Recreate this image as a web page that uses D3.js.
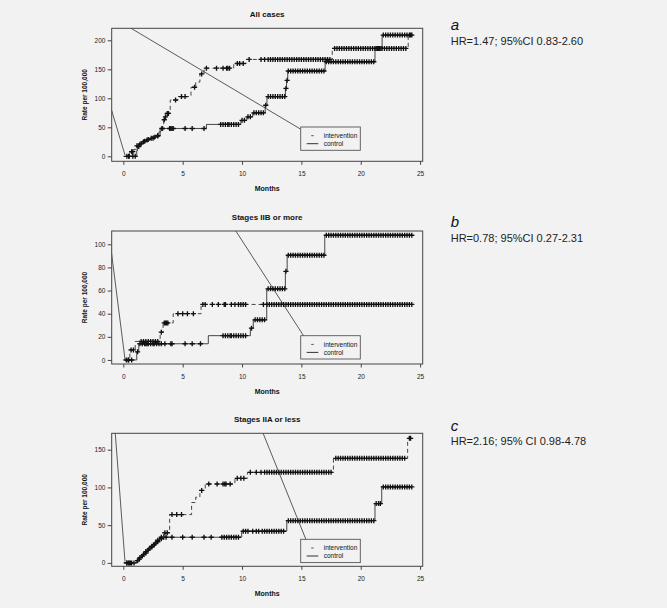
<!DOCTYPE html>
<html>
<head>
<meta charset="utf-8">
<script src="https://cdnjs.cloudflare.com/ajax/libs/d3/7.8.5/d3.min.js"></script>
<style>
  body { margin: 0; background: #f2f2f2; }
  svg { display: block; font-family: "Liberation Sans", Arial, sans-serif; }
</style>
</head>
<body>
<div class="canvas"></div>
<script>
// ---- data ----
var titles = ["All cases", "Stages IIB or more", "Stages IIA or less"];
var letters = ["a", "b", "c"];
var hrLabels = ["HR=1.47; 95%CI 0.83-2.60", "HR=0.78; 95%CI 0.27-2.31", "HR=2.16; 95% CI 0.98-4.78"];
var xTicks = [0, 5, 10, 15, 20, 25];
var aYTicks = [0, 50, 100, 150, 200];
var bYTicks = [0, 20, 40, 60, 80, 100];
var cYTicks = [0, 50, 100, 150];

// all cases
var aIntTimes = [0.2, 0.55, 0.9, 1.1, 1.3, 1.6, 1.9, 2.2, 2.5, 2.8, 3.0, 3.15, 3.3, 3.4, 3.5, 3.6, 3.95, 4.6, 5.7, 6.1, 6.45, 6.8, 9.3, 10.35, 17.6, 24.0];
var aIntRates = [0, 8, 12, 18, 21, 25, 28, 31, 33, 36, 42, 48, 56, 63, 68, 74, 97, 103, 119, 128, 142, 152, 160, 167, 186, 209];
var aIntCens = [0.3, 0.45, 0.7, 0.8, 1.15, 1.4, 1.7, 2.0, 2.35, 2.6, 2.9, 3.25, 3.45, 3.55, 3.7, 3.8, 4.4, 4.9, 5.2, 6.0, 6.6, 7.0, 7.85, 8.4, 8.7, 8.8, 8.95, 9.6, 9.8, 10.1, 10.6, 11.6, 11.9, 12.2,
  12.4, 12.6, 12.8, 13.0, 13.2, 13.4, 13.6, 13.8, 14.0, 14.2, 14.4, 14.6, 14.8, 15.0, 15.2, 15.4, 15.6, 15.8, 16.0, 16.2, 16.4, 16.6, 16.8, 17.0, 17.2, 17.4,
  17.8, 18.0, 18.2, 18.4, 18.6, 18.8, 19.0, 19.2, 19.4, 19.6, 19.8, 20.0, 20.2, 20.4, 20.6, 20.8, 21.0, 21.2, 21.4, 21.6, 21.8, 22.0, 22.2, 22.4, 22.6, 22.8, 23.0, 23.2, 23.4, 23.6, 23.8, 24.2];
var aCtlTimes = [0, 1.13, 1.2, 1.4, 1.7, 2.0, 2.3, 2.7, 3.1, 7.0, 9.9, 10.4, 10.9, 11.95, 12.1, 13.65, 13.75, 13.85, 17.0, 21.2, 21.8];
var aCtlRates = [0, 10, 17, 22, 26, 29, 31, 35, 48, 55, 62, 68, 75, 88, 103, 117, 131, 147, 163, 186, 209];
var aCtlCens = [0.5, 0.8, 1.0, 1.3, 1.5, 1.8, 2.1, 2.5, 2.9, 3.3, 3.9, 4.0, 4.1, 4.2, 5.2, 5.8, 6.8, 8.2, 8.4, 8.6, 8.8, 8.9, 9.1, 9.3, 9.5, 9.7, 10.0, 10.2, 10.5, 10.7, 11.0, 11.2, 11.4, 11.6, 11.8, 12.0,
  12.2, 12.4, 12.6, 12.8, 13.0, 13.2, 13.4, 13.6, 13.7, 13.8, 13.9, 14.1, 14.3, 14.5, 14.7, 14.9, 15.1, 15.3, 15.5, 15.7, 15.9, 16.1, 16.3, 16.5, 16.7, 16.9,
  17.1, 17.3, 17.5, 17.7, 17.9, 18.1, 18.3, 18.5, 18.7, 18.9, 19.1, 19.3, 19.5, 19.7, 19.9, 20.1, 20.3, 20.5, 20.7, 20.9, 21.1, 21.3, 21.5, 21.7,
  21.9, 22.1, 22.3, 22.5, 22.7, 22.9, 23.1, 23.3, 23.5, 23.7, 23.9, 24.1, 24.3];
var aRefLines = [[0.65, 220.7, 15.67, 37.9], [-1.12, 88.4, 0.14, 2.2]];

// stages IIB or more
var bIntTimes = [0.15, 0.55, 1.0, 3.1, 3.35, 4.2, 6.55];
var bIntRates = [0, 8.7, 16, 24, 32, 40, 48];
var bIntCens = [0.25, 0.45, 0.65, 0.85, 1.5, 1.7, 1.9, 2.1, 2.3, 2.5, 2.7, 2.9, 3.2, 3.45, 3.55, 3.65, 3.75, 4.6, 5.0, 5.4, 5.9, 6.7, 6.9, 7.5, 8.0, 8.5, 8.6, 9.1, 9.4, 9.7, 9.9, 10.1, 10.3, 11.8, 12.1,
  12.3, 12.5, 12.7, 12.9, 13.1, 13.3, 13.5, 13.7, 13.9, 14.1, 14.3, 14.5, 14.7, 14.9, 15.1, 15.3, 15.5, 15.7, 15.9, 16.1, 16.3, 16.5, 16.7, 16.9,
  17.1, 17.3, 17.5, 17.7, 17.9, 18.1, 18.3, 18.5, 18.7, 18.9, 19.1, 19.3, 19.5, 19.7, 19.9, 20.1, 20.3, 20.5, 20.7, 20.9,
  21.1, 21.3, 21.5, 21.7, 21.9, 22.1, 22.3, 22.5, 22.7, 22.9, 23.1, 23.3, 23.5, 23.7, 23.9, 24.1, 24.3];
var bCtlTimes = [0, 1.13, 1.3, 7.16, 10.7, 10.95, 12.08, 13.65, 13.8, 16.97];
var bCtlRates = [0, 7, 14, 21, 27.5, 34.7, 61.5, 76.6, 90.5, 107.8];
var bCtlCens = [0.4, 0.7, 1.2, 1.4, 1.6, 1.8, 1.9, 2.0, 2.1, 2.3, 2.5, 2.6, 2.8, 3.0, 3.2, 3.5, 4.0, 4.1, 5.2, 5.8, 6.5, 8.4, 8.6, 8.8, 9.0, 9.1, 9.3, 9.5, 9.7, 9.9, 10.1, 10.3, 10.8, 11.1, 11.3, 11.5, 11.7, 11.9,
  12.2, 12.4, 12.6, 12.8, 13.0, 13.2, 13.4, 13.6, 13.7, 13.9, 14.1, 14.3, 14.5, 14.7, 14.9, 15.1, 15.3, 15.5, 15.7, 15.9, 16.1, 16.3, 16.5, 16.7, 16.9,
  17.1, 17.3, 17.5, 17.7, 17.9, 18.1, 18.3, 18.5, 18.7, 18.9, 19.1, 19.3, 19.5, 19.7, 19.9, 20.1, 20.3, 20.5, 20.7, 20.9,
  21.1, 21.3, 21.5, 21.7, 21.9, 22.1, 22.3, 22.5, 22.7, 22.9, 23.1, 23.3, 23.5, 23.7, 23.9, 24.1, 24.3];
var bRefLines = [[9.41, 112.6, 15.59, 14.5], [-1.1, 101, 0.14, 0.6]];

// stages IIA or less
var cIntTimes = [0.2, 1.25, 1.5, 1.75, 2.0, 2.25, 2.5, 2.75, 3.0, 3.4, 3.9, 5.75, 6.1, 6.45, 6.9, 9.4, 10.45, 17.7, 23.95];
var cIntRates = [0, 5, 9, 13, 17, 21, 24, 28, 32, 40, 64, 80, 87, 96, 104.5, 112, 120, 138.5, 165];
var cIntCens = [0.3, 0.45, 0.6, 1.35, 1.6, 1.9, 2.1, 2.4, 2.6, 2.9, 3.2, 3.5, 3.7, 4.1, 4.5, 4.9, 6.6, 7.2, 7.9, 8.4, 8.55, 8.65, 9.0, 9.6, 9.9, 10.15, 10.7, 11.2, 11.6, 11.9,
  12.1, 12.3, 12.5, 12.7, 12.9, 13.1, 13.3, 13.5, 13.7, 13.9, 14.1, 14.3, 14.5, 14.7, 14.9, 15.1, 15.3, 15.5, 15.7, 15.9, 16.1, 16.3, 16.5, 16.7, 16.9, 17.1, 17.3, 17.5,
  17.9, 18.1, 18.3, 18.5, 18.7, 18.9, 19.1, 19.3, 19.5, 19.7, 19.9, 20.1, 20.3, 20.5, 20.7, 20.9, 21.1, 21.3, 21.5, 21.7, 21.9, 22.1, 22.3, 22.5, 22.7, 22.9, 23.1, 23.3, 23.5, 23.7,
  24.1, 24.2];
var cCtlTimes = [0, 1.1, 1.3, 1.55, 1.8, 2.05, 2.3, 2.55, 2.8, 3.05, 9.97, 13.77, 21.2, 21.77];
var cCtlRates = [0, 3, 7, 11, 15, 19, 22, 26, 30, 34, 42, 56, 78.6, 100.7];
var cCtlCens = [0.3, 0.5, 0.7, 0.9, 1.2, 1.4, 1.7, 1.9, 2.2, 2.4, 2.7, 2.9, 3.2, 3.4, 3.6, 4.1, 5.0, 5.8, 6.8, 7.4, 8.3, 8.5, 8.7, 8.9, 9.1, 9.3, 9.5, 9.7,
  10.1, 10.3, 10.5, 10.9, 11.2, 11.4, 11.7, 11.9, 12.1, 12.3, 12.5, 12.7, 12.9, 13.1, 13.3, 13.5,
  13.9, 14.1, 14.3, 14.5, 14.7, 14.9, 15.1, 15.3, 15.5, 15.7, 15.9, 16.1, 16.3, 16.5, 16.7, 16.9, 17.1, 17.3, 17.5, 17.7, 17.9,
  18.1, 18.3, 18.5, 18.7, 18.9, 19.1, 19.3, 19.5, 19.7, 19.9, 20.1, 20.3, 20.5, 20.7, 20.9, 21.1,
  21.3, 21.5, 21.65, 21.9, 22.1, 22.3, 22.5, 22.7, 22.9, 23.1, 23.3, 23.5, 23.7, 23.9, 24.1, 24.3];
var cRefLines = [[11.66, 176.2, 15.59, 23], [-0.7, 176, 0.14, 1.7]];

// ---- layout ----
var W = 667, H = 608;
var left = 111.7, right = 422.7, plotH = 133;

var panels = [
  { top: 28.3, yDomain: [-8.6, 220.7], yTicks: aYTicks, legendTop: 127,
    int: [aIntTimes, aIntRates, aIntCens], ctl: [aCtlTimes, aCtlRates, aCtlCens], ref: aRefLines,
    letterY: 30, hrY: 45 },
  { top: 231, yDomain: [-3.5, 111.5], yTicks: bYTicks, legendTop: 335.7,
    int: [bIntTimes, bIntRates, bIntCens], ctl: [bCtlTimes, bCtlRates, bCtlCens], ref: bRefLines,
    letterY: 227, hrY: 242 },
  { top: 433.3, yDomain: [-4.5, 171.7], yTicks: cYTicks, legendTop: 539.3,
    int: [cIntTimes, cIntRates, cIntCens], ctl: [cCtlTimes, cCtlRates, cCtlCens], ref: cRefLines,
    letterY: 431, hrY: 445 }
];

var svg = d3.select(".canvas").append("svg").attr("width", W).attr("height", H);
svg.append("rect").attr("width", W).attr("height", H).attr("fill", "#f2f2f2");

var x = d3.scaleLinear().domain([-0.98, 25.22]).range([left, right]);

// value of a step function at time t
function stepAt(times, rates, t) {
  var v = rates[0];
  for (var i = 0; i < times.length; i++) { if (times[i] <= t) v = rates[i]; }
  return v;
}

panels.forEach(function(p, i) {
  var bottom = p.top + plotH;
  var y = d3.scaleLinear().domain(p.yDomain).range([bottom, p.top]);
  var g = svg.append("g");

  g.append("clipPath").attr("id", "clip" + i)
    .append("rect").attr("x", left).attr("y", p.top).attr("width", right - left).attr("height", plotH);

  // title
  g.append("text").attr("x", (left + right) / 2).attr("y", p.top - 11)
    .attr("text-anchor", "middle").attr("font-size", "8px").attr("font-weight", "bold")
    .attr("fill", "#111").text(titles[i]);

  // axes
  var yAxis = d3.axisLeft(y).tickValues(p.yTicks).tickSize(4).tickPadding(2.3);
  g.append("g").attr("transform", "translate(" + left + ",0)").call(yAxis)
    .call(function(s) {
      s.select(".domain").remove();
      s.selectAll("line").attr("stroke", "#444");
      s.selectAll("text").attr("font-size", "6.5px").attr("fill", "#222").attr("font-family", null);
    });
  var xAxis = d3.axisBottom(x).tickValues(xTicks).tickSize(3.5).tickPadding(6.5);
  g.append("g").attr("transform", "translate(0," + bottom + ")").call(xAxis)
    .call(function(s) {
      s.select(".domain").remove();
      s.selectAll("line").attr("stroke", "#444");
      s.selectAll("text").attr("font-size", "6.5px").attr("fill", "#222").attr("font-family", null);
    });

  g.append("text").attr("x", (left + right) / 2).attr("y", bottom + 29.5)
    .attr("text-anchor", "middle").attr("font-size", "7px").attr("font-weight", "bold")
    .attr("fill", "#111").text("Months");
  g.append("text")
    .attr("transform", "translate(87," + (p.top + plotH / 2) + ") rotate(-90)")
    .attr("text-anchor", "middle").attr("font-size", "6.5px").attr("font-weight", "bold")
    .attr("fill", "#111").text("Rate per 100,000");

  var plot = g.append("g").attr("clip-path", "url(#clip" + i + ")");

  // straight reference lines
  plot.selectAll("line.ref").data(p.ref).enter().append("line")
    .attr("x1", function(d) { return x(d[0]); })
    .attr("y1", function(d) { return y(d[1]); })
    .attr("x2", function(d) { return x(d[2]); })
    .attr("y2", function(d) { return y(d[3]); })
    .attr("stroke", "#333").attr("stroke-width", 0.8);

  var line = d3.line().curve(d3.curveStepAfter)
    .x(function(d) { return x(d[0]); })
    .y(function(d) { return y(d[1]); });

  [[p.ctl, null], [p.int, "4,3"]].forEach(function(s) {
    var times = s[0][0], rates = s[0][1], cens = s[0][2];
    var pts = times.map(function(t, k) { return [t, rates[k]]; });
    var end = Math.max(d3.max(cens), d3.max(times));
    pts.push([end, rates[rates.length - 1]]);
    plot.append("path").attr("d", line(pts))
      .attr("fill", "none").attr("stroke", "#333").attr("stroke-width", 0.9)
      .attr("stroke-dasharray", s[1]);
    plot.selectAll(null).data(cens).enter().append("path")
      .attr("d", function(t) {
        var cx = x(t), cy = y(stepAt(times, rates, t));
        return "M" + (cx - 2.6) + "," + cy + "h5.2M" + cx + "," + (cy - 2.5) + "v5";
      })
      .attr("stroke", "#111").attr("stroke-width", 1.35).attr("fill", "none");
  });

  // box
  g.append("rect").attr("x", left).attr("y", p.top).attr("width", right - left).attr("height", plotH)
    .attr("fill", "none").attr("stroke", "#444").attr("stroke-width", 1);

  // legend
  var lg = g.append("g").attr("transform", "translate(300.7," + p.legendTop + ")");
  lg.append("rect").attr("width", 59.6).attr("height", 23.3)
    .attr("fill", "#f2f2f2").attr("stroke", "#555").attr("stroke-width", 0.9);
  lg.append("line").attr("x1", 6).attr("x2", 17.6).attr("y1", 8.7).attr("y2", 8.7)
    .attr("stroke", "#555").attr("stroke-dasharray", "0,4.5,2.5,20");
  lg.append("line").attr("x1", 6).attr("x2", 17.6).attr("y1", 16.7).attr("y2", 16.7)
    .attr("stroke", "#333");
  lg.append("text").attr("x", 23).attr("y", 11).attr("font-size", "6.5px").attr("fill", "#111").text("intervention");
  lg.append("text").attr("x", 23).attr("y", 19).attr("font-size", "6.5px").attr("fill", "#111").text("control");

  // right hand annotation
  g.append("text").attr("x", 450.7).attr("y", p.letterY).attr("font-size", "15px")
    .attr("font-style", "italic").attr("fill", "#111").text(letters[i]);
  g.append("text").attr("x", 450.7).attr("y", p.hrY).attr("font-size", "11px")
    .attr("fill", "#222").text(hrLabels[i]);
});
</script>
</body>
</html>
